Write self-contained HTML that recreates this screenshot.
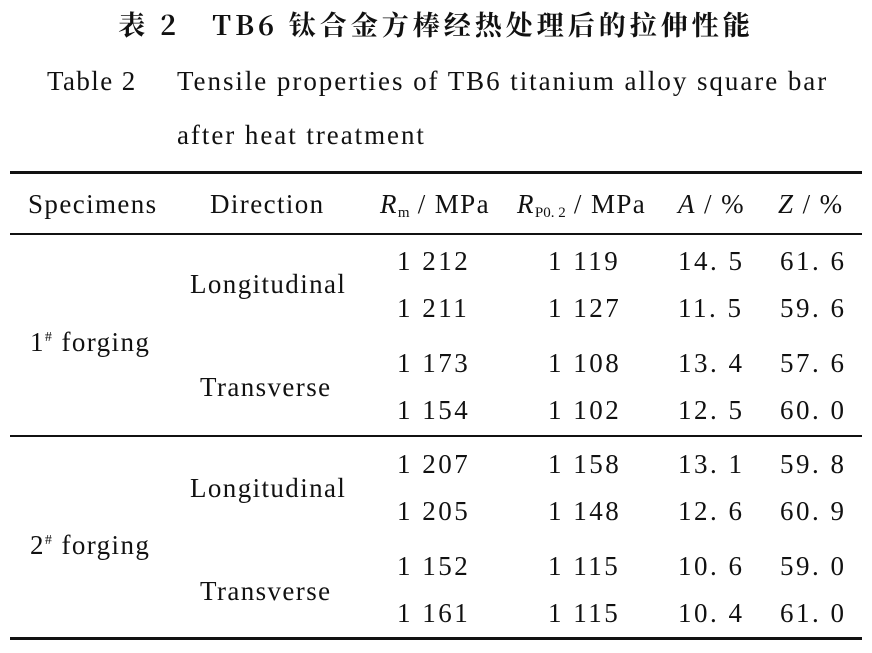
<!DOCTYPE html>
<html><head><meta charset="utf-8"><style>
body{margin:0;background:#fff;}
#c{position:relative;width:872px;height:653px;overflow:hidden;font-family:"Liberation Serif","Noto Serif CJK SC",serif;color:#111;font-size:27px;}
.t{position:absolute;line-height:30px;white-space:nowrap;letter-spacing:1.4px;}
.n{letter-spacing:2.5px;}
.r{position:absolute;left:10px;width:852px;background:#111;}
sub{font-size:15px;vertical-align:-4px;letter-spacing:0;}
sup{font-size:14px;vertical-align:10px;}
</style></head><body><div id="c">
<div class="t" style="left:0;width:872px;text-align:center;top:9px;font-family:'Noto Serif CJK SC',serif;font-weight:bold;font-size:27px;letter-spacing:4px;">表 2&nbsp;&nbsp;&nbsp;TB6 钛合金方棒经热处理后的拉伸性能</div>
<div class="t" style="left:47px;top:66px;">Table 2</div>
<div class="t" style="left:177px;top:66px;letter-spacing:1.95px;">Tensile properties of TB6 titanium alloy square bar</div>
<div class="t" style="left:177px;top:120px;letter-spacing:1.95px;">after heat treatment</div>
<div class="r" style="top:171px;height:3px;"></div>
<div class="r" style="top:233px;height:1.5px;"></div>
<div class="r" style="top:435px;height:1.5px;"></div>
<div class="r" style="top:637px;height:3px;"></div>
<div class="t" style="left:28px;top:189px;">Specimens</div>
<div class="t" style="left:210px;top:189px;">Direction</div>
<div class="t" style="left:380px;top:189px;"><i>R</i><sub>m</sub> / MPa</div>
<div class="t" style="left:517px;top:189px;"><i>R</i><sub>P0. 2</sub> / MPa</div>
<div class="t" style="left:678px;top:189px;"><i>A</i> / %</div>
<div class="t" style="left:778px;top:189px;"><i>Z</i> / %</div>
<div class="t" style="left:30px;top:323px;">1<sup>#</sup> forging</div>
<div class="t" style="left:30px;top:526px;">2<sup>#</sup> forging</div>
<div class="t" style="left:190px;top:269px;">Longitudinal</div>
<div class="t" style="left:200px;top:372px;">Transverse</div>
<div class="t" style="left:190px;top:473px;">Longitudinal</div>
<div class="t" style="left:200px;top:576px;">Transverse</div>
<div class="t n" style="left:397px;top:246px;">1 212</div><div class="t n" style="left:548px;top:246px;">1 119</div><div class="t n" style="left:678px;top:246px;">14. 5</div><div class="t n" style="left:780px;top:246px;">61. 6</div>
<div class="t n" style="left:397px;top:293px;">1 211</div><div class="t n" style="left:548px;top:293px;">1 127</div><div class="t n" style="left:678px;top:293px;">11. 5</div><div class="t n" style="left:780px;top:293px;">59. 6</div>
<div class="t n" style="left:397px;top:348px;">1 173</div><div class="t n" style="left:548px;top:348px;">1 108</div><div class="t n" style="left:678px;top:348px;">13. 4</div><div class="t n" style="left:780px;top:348px;">57. 6</div>
<div class="t n" style="left:397px;top:395px;">1 154</div><div class="t n" style="left:548px;top:395px;">1 102</div><div class="t n" style="left:678px;top:395px;">12. 5</div><div class="t n" style="left:780px;top:395px;">60. 0</div>
<div class="t n" style="left:397px;top:449px;">1 207</div><div class="t n" style="left:548px;top:449px;">1 158</div><div class="t n" style="left:678px;top:449px;">13. 1</div><div class="t n" style="left:780px;top:449px;">59. 8</div>
<div class="t n" style="left:397px;top:496px;">1 205</div><div class="t n" style="left:548px;top:496px;">1 148</div><div class="t n" style="left:678px;top:496px;">12. 6</div><div class="t n" style="left:780px;top:496px;">60. 9</div>
<div class="t n" style="left:397px;top:551px;">1 152</div><div class="t n" style="left:548px;top:551px;">1 115</div><div class="t n" style="left:678px;top:551px;">10. 6</div><div class="t n" style="left:780px;top:551px;">59. 0</div>
<div class="t n" style="left:397px;top:598px;">1 161</div><div class="t n" style="left:548px;top:598px;">1 115</div><div class="t n" style="left:678px;top:598px;">10. 4</div><div class="t n" style="left:780px;top:598px;">61. 0</div>
</div></body></html>
